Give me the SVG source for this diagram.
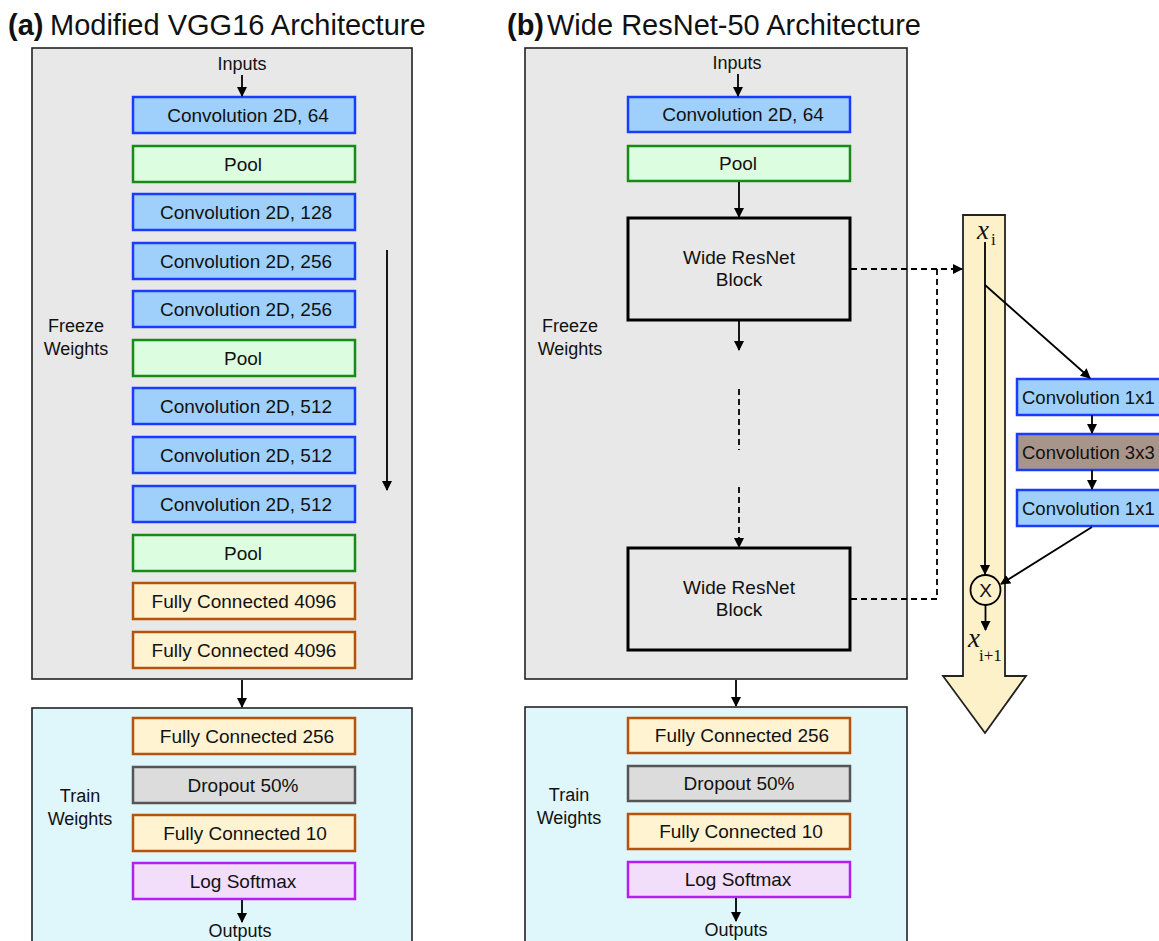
<svg xmlns="http://www.w3.org/2000/svg" width="1159" height="941" viewBox="0 0 1159 941">
<defs>
<marker id="ah" markerWidth="10" markerHeight="10" refX="9" refY="5" orient="auto" markerUnits="userSpaceOnUse"><path d="M0,0 L10,5 L0,10 z" fill="#000"/></marker>
<style>
text{font-family:"Liberation Sans",Arial,sans-serif;fill:#111}
.t{font-size:19px;text-anchor:middle}
.lab{font-size:18px;text-anchor:middle}
.title{font-size:29px}
.frame{fill:#e8e8e8;stroke:#222;stroke-width:1.6}
.train{fill:#dff6fb;stroke:#222;stroke-width:1.6}
.conv{fill:#9ed0fb;stroke:#1a3cff;stroke-width:2.5}
.pool{fill:#ddfde0;stroke:#178a17;stroke-width:2.5}
.fc{fill:#fff3d2;stroke:#b5530a;stroke-width:2.5}
.drop{fill:#dcdcdc;stroke:#555;stroke-width:2.5}
.soft{fill:#f2ddfb;stroke:#b41ef0;stroke-width:2.5}
.blk{fill:#e8e8e8;stroke:#000;stroke-width:3}
.c3{fill:#a89589;stroke:#1a3cff;stroke-width:2.5}
.ln{stroke:#000;stroke-width:1.8;fill:none}
.dash{stroke:#000;stroke-width:1.8;fill:none;stroke-dasharray:6,4}
.serif{font-family:"Liberation Serif","Times New Roman",serif}
</style>
</defs>

<g id="titles">
<text x="8" y="35" class="title" font-weight="bold">(a)</text>
<text x="50" y="35" class="title">Modified VGG16 Architecture</text>
<text x="507" y="35" class="title" font-weight="bold">(b)</text>
<text x="547" y="35" class="title">Wide ResNet-50 Architecture</text>
</g>

<g id="panel-a">
<rect x="32" y="48" width="380" height="631" class="frame"/>
<rect x="32" y="708" width="380" height="250" class="train"/>
<text x="242" y="70" class="lab">Inputs</text>
<text x="76" y="332" class="lab">Freeze</text>
<text x="76" y="355" class="lab">Weights</text>
<text x="80" y="802" class="lab">Train</text>
<text x="80" y="825" class="lab">Weights</text>
<text x="240" y="937" class="lab">Outputs</text>
</g>

<g id="a-conv64"><rect x="133" y="97" width="222" height="36" class="conv"/><text x="248" y="122" class="t">Convolution 2D, 64</text></g>
<g id="a-pool1"><rect x="133" y="146" width="222" height="36" class="pool"/><text x="243" y="171" class="t">Pool</text></g>
<g id="a-conv128"><rect x="133" y="194" width="222" height="36" class="conv"/><text x="246" y="219" class="t">Convolution 2D, 128</text></g>
<g id="a-conv256a"><rect x="133" y="243" width="222" height="36" class="conv"/><text x="246" y="268" class="t">Convolution 2D, 256</text></g>
<g id="a-conv256b"><rect x="133" y="291" width="222" height="36" class="conv"/><text x="246" y="316" class="t">Convolution 2D, 256</text></g>
<g id="a-pool2"><rect x="133" y="340" width="222" height="36" class="pool"/><text x="243" y="365" class="t">Pool</text></g>
<g id="a-conv512a"><rect x="133" y="388" width="222" height="36" class="conv"/><text x="246" y="413" class="t">Convolution 2D, 512</text></g>
<g id="a-conv512b"><rect x="133" y="437" width="222" height="36" class="conv"/><text x="246" y="462" class="t">Convolution 2D, 512</text></g>
<g id="a-conv512c"><rect x="133" y="486" width="222" height="36" class="conv"/><text x="246" y="511" class="t">Convolution 2D, 512</text></g>
<g id="a-pool3"><rect x="133" y="535" width="222" height="36" class="pool"/><text x="243" y="560" class="t">Pool</text></g>
<g id="a-fc4096a"><rect x="133" y="583" width="222" height="36" class="fc"/><text x="244" y="608" class="t">Fully Connected 4096</text></g>
<g id="a-fc4096b"><rect x="133" y="632" width="222" height="36" class="fc"/><text x="244" y="657" class="t">Fully Connected 4096</text></g>
<g id="a-fc256"><rect x="133" y="718" width="222" height="36" class="fc"/><text x="247" y="743" class="t">Fully Connected 256</text></g>
<g id="a-drop"><rect x="133" y="767" width="222" height="36" class="drop"/><text x="243" y="792" class="t">Dropout 50%</text></g>
<g id="a-fc10"><rect x="133" y="815" width="222" height="36" class="fc"/><text x="245" y="840" class="t">Fully Connected 10</text></g>
<g id="a-soft"><rect x="133" y="863" width="222" height="36" class="soft"/><text x="243" y="888" class="t">Log Softmax</text></g>

<g id="panel-b">
<rect x="525" y="48" width="382" height="631" class="frame"/>
<rect x="525" y="707" width="382" height="251" class="train"/>
<text x="737" y="69" class="lab">Inputs</text>
<text x="570" y="332" class="lab">Freeze</text>
<text x="570" y="355" class="lab">Weights</text>
<text x="569" y="801" class="lab">Train</text>
<text x="569" y="824" class="lab">Weights</text>
<text x="736" y="936" class="lab">Outputs</text>
</g>

<g id="b-conv64"><rect x="628" y="97" width="222" height="35" class="conv"/><text x="743" y="121" class="t">Convolution 2D, 64</text></g>
<g id="b-pool"><rect x="628" y="146" width="222" height="35" class="pool"/><text x="738" y="170" class="t">Pool</text></g>
<g id="b-block1"><rect x="628" y="218" width="222" height="102" class="blk"/><text x="739" y="264" class="t">Wide ResNet</text><text x="739" y="286" class="t">Block</text></g>
<g id="b-block2"><rect x="628" y="548" width="222" height="102" class="blk"/><text x="739" y="594" class="t">Wide ResNet</text><text x="739" y="616" class="t">Block</text></g>
<g id="b-fc256"><rect x="628" y="718" width="222" height="35" class="fc"/><text x="742" y="742" class="t">Fully Connected 256</text></g>
<g id="b-drop"><rect x="628" y="766" width="222" height="35" class="drop"/><text x="739" y="790" class="t">Dropout 50%</text></g>
<g id="b-fc10"><rect x="628" y="814" width="222" height="35" class="fc"/><text x="741" y="838" class="t">Fully Connected 10</text></g>
<g id="b-soft"><rect x="628" y="862" width="222" height="35" class="soft"/><text x="738" y="886" class="t">Log Softmax</text></g>

<g id="resblock">
<path d="M963,215 L1005,215 L1005,676 L1026,676 L985,733 L943,676 L963,676 Z" fill="#fdf1c9" stroke="#222" stroke-width="1.8"/>
<text x="977" y="239" class="serif" font-size="27" font-style="italic">x</text>
<text x="991" y="245" class="serif" font-size="17">i</text>
<circle cx="985.5" cy="590" r="15" fill="#fdf1c9" stroke="#000" stroke-width="1.8"/>
<text x="985.5" y="597" class="t">X</text>
<text x="968" y="647" class="serif" font-size="27" font-style="italic">x</text>
<text x="979" y="661" class="serif" font-size="17">i+1</text>
</g>
<g id="r-conv1"><rect x="1017" y="379" width="150" height="36" class="conv"/><text x="1022" y="404" font-size="18.5">Convolution 1x1</text></g>
<g id="r-conv3"><rect x="1017" y="434" width="150" height="36" class="c3"/><text x="1022" y="459" font-size="18.5">Convolution 3x3</text></g>
<g id="r-conv1b"><rect x="1017" y="490" width="150" height="36" class="conv"/><text x="1022" y="515" font-size="18.5">Convolution 1x1</text></g>

<g id="connectors">
<line x1="242" y1="75" x2="242" y2="96" class="ln" marker-end="url(#ah)"/>
<line x1="387" y1="250" x2="387" y2="490" class="ln" marker-end="url(#ah)"/>
<line x1="242" y1="680" x2="242" y2="707" class="ln" marker-end="url(#ah)"/>
<line x1="242" y1="900" x2="242" y2="922" class="ln" marker-end="url(#ah)"/>
<line x1="738" y1="74" x2="738" y2="96" class="ln" marker-end="url(#ah)"/>
<line x1="739" y1="182" x2="739" y2="217" class="ln" marker-end="url(#ah)"/>
<line x1="739" y1="321" x2="739" y2="350" class="ln" marker-end="url(#ah)"/>
<line x1="739" y1="389" x2="739" y2="450" class="dash" stroke-dasharray="6,3"/>
<line x1="739" y1="487" x2="739" y2="547" class="dash" stroke-dasharray="5,3" marker-end="url(#ah)"/>
<line x1="736" y1="680" x2="736" y2="706" class="ln" marker-end="url(#ah)"/>
<line x1="736" y1="898" x2="736" y2="921" class="ln" marker-end="url(#ah)"/>
<line x1="851" y1="269" x2="962" y2="269" class="dash" marker-end="url(#ah)"/>
<polyline points="851,599 937,599 937,269" class="dash" stroke-dasharray="5,3"/>
<line x1="985" y1="242" x2="985" y2="574" class="ln" marker-end="url(#ah)"/>
<line x1="985" y1="285" x2="1090" y2="378" class="ln" marker-end="url(#ah)"/>
<line x1="1092" y1="415" x2="1092" y2="433" class="ln" marker-end="url(#ah)"/>
<line x1="1092" y1="470" x2="1092" y2="489" class="ln" marker-end="url(#ah)"/>
<line x1="1092" y1="527" x2="1001" y2="584" class="ln" marker-end="url(#ah)"/>
<line x1="985.5" y1="605" x2="985.5" y2="630" class="ln" marker-end="url(#ah)"/>
</g>
</svg>
